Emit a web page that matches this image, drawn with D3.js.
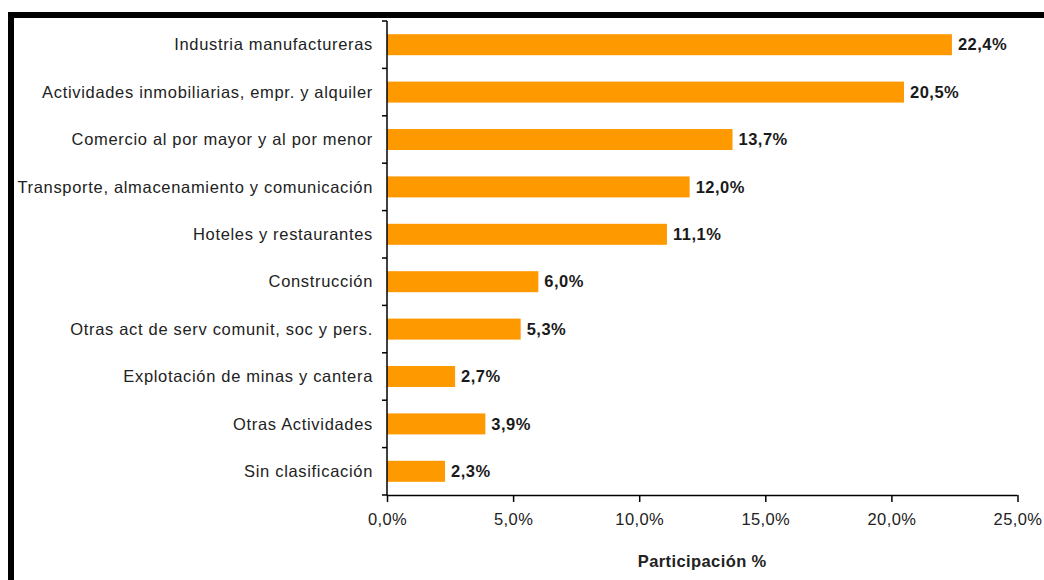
<!DOCTYPE html>
<html>
<head>
<meta charset="utf-8">
<script src="https://cdn.jsdelivr.net/npm/d3@7"></script>
<style>
  body { margin: 0; background: #fff; }
  text { font-family: "Liberation Sans", Arial, sans-serif; }
</style>
</head>
<body>
<div id="canvas"></div>
<script>
const categories = [
  "Industria manufactureras",
  "Actividades inmobiliarias, empr. y alquiler",
  "Comercio al por mayor y al por menor",
  "Transporte, almacenamiento y comunicación",
  "Hoteles y restaurantes",
  "Construcción",
  "Otras act de serv comunit, soc y pers.",
  "Explotación de minas y cantera",
  "Otras Actividades",
  "Sin clasificación"
];
const values = [22.4, 20.5, 13.7, 12.0, 11.1, 6.0, 5.3, 2.7, 3.9, 2.3];
const xTicks = [0, 5, 10, 15, 20, 25];
const axisTitle = "Participación %";

const fmt = v => v.toFixed(1).replace(".", ",") + "%";

const svg = d3.select("#canvas")
  .append("svg")
    .attr("width", 1044)
    .attr("height", 580);

// black frame top and left
svg.append("rect").attr("x", 8).attr("y", 12).attr("width", 1036).attr("height", 6).attr("fill", "#000");
svg.append("rect").attr("x", 8).attr("y", 12).attr("width", 6).attr("height", 568).attr("fill", "#000");

const plotLeft = 387, plotRight = 1017.5, plotTop = 21, plotBottom = 495;

const x = d3.scaleLinear().domain([0, 25]).range([plotLeft, plotRight]);
const y = d3.scaleBand().domain(categories).range([plotTop, plotBottom])
  .paddingInner(0.557).paddingOuter(0.2785);

// bars
svg.selectAll("rect.bar")
  .data(values)
  .enter()
  .append("rect")
    .attr("class", "bar")
    .attr("x", x(0))
    .attr("y", (d, i) => y(categories[i]))
    .attr("width", d => x(d) - x(0))
    .attr("height", y.bandwidth())
    .attr("fill", "#FF9900");

// value labels
svg.selectAll("text.val")
  .data(values)
  .enter()
  .append("text")
    .attr("class", "val")
    .attr("x", d => x(d) + 6)
    .attr("y", (d, i) => y(categories[i]) + y.bandwidth() / 2)
    .attr("dy", "0.35em")
    .style("font-size", "16.5px")
    .style("font-weight", "bold")
    .style("letter-spacing", "0.5px")
    .style("fill", "#1a1a1a")
    .text(d => fmt(d));

// y axis line + boundary ticks
const ya = svg.append("g").attr("stroke", "#000").attr("stroke-width", 1.5);
ya.append("line").attr("x1", plotLeft).attr("x2", plotLeft).attr("y1", plotTop).attr("y2", plotBottom);
const bounds = d3.range(categories.length + 1).map(i => plotTop + i * y.step());
ya.selectAll("line.tk")
  .data(bounds)
  .enter()
  .append("line")
    .attr("class", "tk")
    .attr("x1", plotLeft - 5).attr("x2", plotLeft)
    .attr("y1", d => d).attr("y2", d => d);

// category labels
svg.selectAll("text.cat")
  .data(categories)
  .enter()
  .append("text")
    .attr("class", "cat")
    .attr("x", 373)
    .attr("y", d => y(d) + y.bandwidth() / 2)
    .attr("dy", "0.35em")
    .attr("text-anchor", "end")
    .style("font-size", "16.5px")
    .style("letter-spacing", "0.68px")
    .style("fill", "#222")
    .text(d => d);

// x axis
const xAxis = d3.axisBottom(x)
  .tickValues(xTicks)
  .tickSize(7)
  .tickPadding(11)
  .tickFormat(d => fmt(d));

const gx = svg.append("g")
  .attr("transform", `translate(0,${plotBottom})`)
  .call(xAxis);
gx.select(".domain").attr("stroke", "#000").attr("stroke-width", 1.5)
  .attr("d", `M${plotLeft},0.5H${plotRight}`);
gx.selectAll(".tick line").attr("stroke", "#000").attr("stroke-width", 1.5);
gx.selectAll(".tick text")
  .style("font-size", "16.5px")
  .style("letter-spacing", "0.4px")
  .style("font-family", "'Liberation Sans', Arial, sans-serif")
  .style("fill", "#222");

svg.append("text")
  .attr("x", (plotLeft + plotRight) / 2)
  .attr("y", 561)
  .attr("dy", "0.35em")
  .attr("text-anchor", "middle")
  .style("font-size", "16.5px")
  .style("font-weight", "bold")
  .style("letter-spacing", "0.4px")
  .style("fill", "#222")
  .text(axisTitle);
</script>
</body>
</html>
